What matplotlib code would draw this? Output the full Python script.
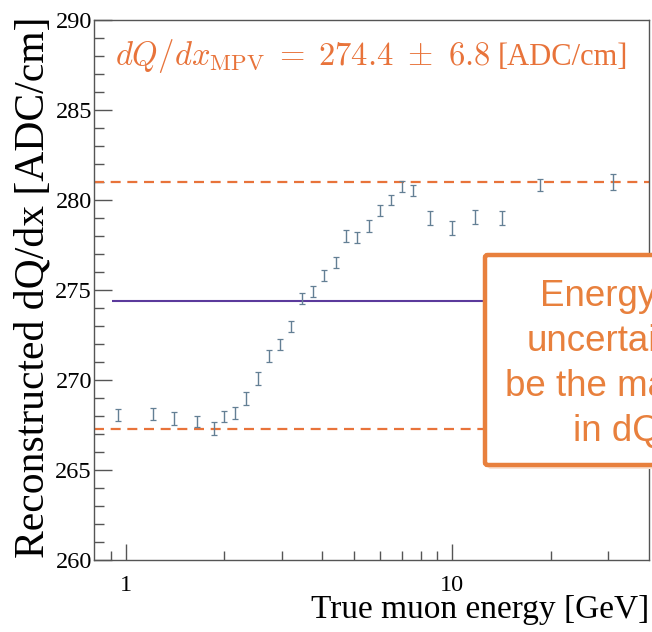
"""
dQ/dx MPV versus true muon energy, with the fitted mean and the +-1 sigma band.
"""

import numpy as np
import matplotlib
matplotlib.use("Agg")
import matplotlib.pyplot as plt
from matplotlib.patches import FancyBboxPatch
from matplotlib.ticker import FixedLocator, NullFormatter, FixedFormatter

# values
energy = [0.95, 1.21, 1.41, 1.65, 1.86, 2.0, 2.16, 2.34, 2.54, 2.74,
          2.96, 3.21, 3.47, 3.75, 4.06, 4.40, 4.73, 5.11, 5.54, 6.0,
          6.5, 7.0, 7.58, 8.52, 9.98, 11.7, 14.2, 18.6, 31.0]
dqdx = [268.06, 268.1, 267.85, 267.7, 267.3, 267.96, 268.15, 268.96, 270.07, 271.3,
        271.98, 272.96, 274.5, 274.9, 275.78, 276.52, 277.96, 277.9, 278.52, 279.39,
        279.98, 280.72, 280.5, 278.98, 278.43, 279.02, 278.98, 280.81, 281.0]
dqdx_err = [0.34, 0.34, 0.34, 0.30, 0.34, 0.30, 0.34, 0.34, 0.34, 0.33,
            0.30, 0.30, 0.30, 0.30, 0.30, 0.30, 0.33, 0.33, 0.33, 0.30,
            0.30, 0.30, 0.30, 0.38, 0.39, 0.38, 0.38, 0.34, 0.45]

mpv_mean = 274.4
band_lines = [281.0, 267.25]
x_range = [0.8, 40.0]
y_range = [260, 290]
x_major = [1, 10]
x_major_labels = ["1", "10"]
x_minor = [0.9, 2, 3, 4, 5, 6, 7, 8, 9, 20, 30]
note_lines = ["Energy", "uncertainty", "be the main", "in dQ/dx"]

ORANGE = "#e8733a"
BOX_ORANGE = "#e8803d"
PURPLE = "#5b3a9c"
BAR_COL = "#637f94"
SERIF = ["Liberation Serif", "DejaVu Serif"]

W, H = 652, 632
fig = plt.figure(figsize=(W / 100, H / 100), dpi=100)
fig.patch.set_facecolor("white")

# axes frame in pixels: left 94, right 649, top 19.5, bottom 560
ax = fig.add_axes([94 / W, (H - 560) / H, (649 - 94) / W, (560 - 19.5) / H])

ax.set_xscale("log")
ax.set_xlim(*x_range)
ax.set_ylim(*y_range)

ax.hlines(band_lines, x_range[0], x_range[1], colors=ORANGE, linestyles=(0, (4.5, 3)),
          linewidth=1.6, zorder=2)
ax.hlines(mpv_mean, 0.91, x_range[1], colors=PURPLE, linewidth=1.5, zorder=2)

ax.errorbar(energy, dqdx, yerr=dqdx_err, fmt="none", ecolor=BAR_COL,
            elinewidth=1.0, capsize=2.0, capthick=0.9, zorder=3)

# ROOT-like ticks
ax.xaxis.set_major_locator(FixedLocator(x_major))
ax.xaxis.set_major_formatter(FixedFormatter(x_major_labels))
ax.xaxis.set_minor_locator(FixedLocator(x_minor))
ax.xaxis.set_minor_formatter(NullFormatter())
ax.yaxis.set_major_locator(FixedLocator(np.arange(260, 291, 5)))
ax.yaxis.set_minor_locator(FixedLocator(np.arange(260, 291, 1)))

ax.tick_params(axis="both", which="both", direction="in", colors="#555555",
               top=False, right=False, width=1.0)
ax.tick_params(axis="x", which="major", length=11.5, pad=11)
ax.tick_params(axis="x", which="minor", length=6.5)
ax.tick_params(axis="y", which="major", length=13, pad=1.5)
ax.tick_params(axis="y", which="minor", length=7)
for lab in ax.get_xticklabels() + ax.get_yticklabels():
    lab.set_family(SERIF)
    lab.set_fontsize(17.5)
    lab.set_color("black")

for sp in ax.spines.values():
    sp.set_color("#555555")
    sp.set_linewidth(1.0)

ax.set_xlabel("True muon energy [GeV]", family=SERIF, fontsize=24,
              ha="right", x=1.0, labelpad=-1)
ax.set_ylabel("Reconstructed dQ/dx [ADC/cm]", family=SERIF, fontsize=30,
              ha="right", y=1.005, labelpad=2)

# fitted value label
plt.rcParams["mathtext.fontset"] = "cm"
fig.text(115 / W, 1 - 65 / H,
         r"$dQ/dx_{\mathrm{MPV}}\;=\;\mathbf{274.4\ \pm\ 6.8}$",
         color=ORANGE, fontsize=23.5, va="baseline", ha="left")
fig.text(498 / W, 1 - 65 / H, "[ADC/cm]", family=SERIF, color=ORANGE,
         fontsize=22, va="baseline", ha="left")

# the comment box, cut off by the right edge of the page
shadow = FancyBboxPatch((488 / W, 1 - 469 / H), 300 / W, 210 / H,
                        boxstyle="round,pad=0,rounding_size=0.004",
                        transform=fig.transFigure, facecolor="#f9e3d5",
                        edgecolor="none", zorder=9, clip_on=False)
box = FancyBboxPatch((485 / W, 1 - 465 / H), 300 / W, 210 / H,
                     boxstyle="round,pad=0,rounding_size=0.004",
                     transform=fig.transFigure, facecolor="white",
                     edgecolor=BOX_ORANGE, linewidth=3.2, zorder=10, clip_on=False)
fig.add_artist(shadow)
fig.add_artist(box)

starts = [540, 527, 505, 573]
baselines = [306, 351, 396, 441]
for txt, x0, yb in zip(note_lines, starts, baselines):
    fig.text(x0 / W, 1 - yb / H, txt, family=["Liberation Sans", "DejaVu Sans"],
             fontsize=26.5, color=BOX_ORANGE, va="baseline", ha="left", zorder=11)

fig.savefig("out.png", dpi=100)
